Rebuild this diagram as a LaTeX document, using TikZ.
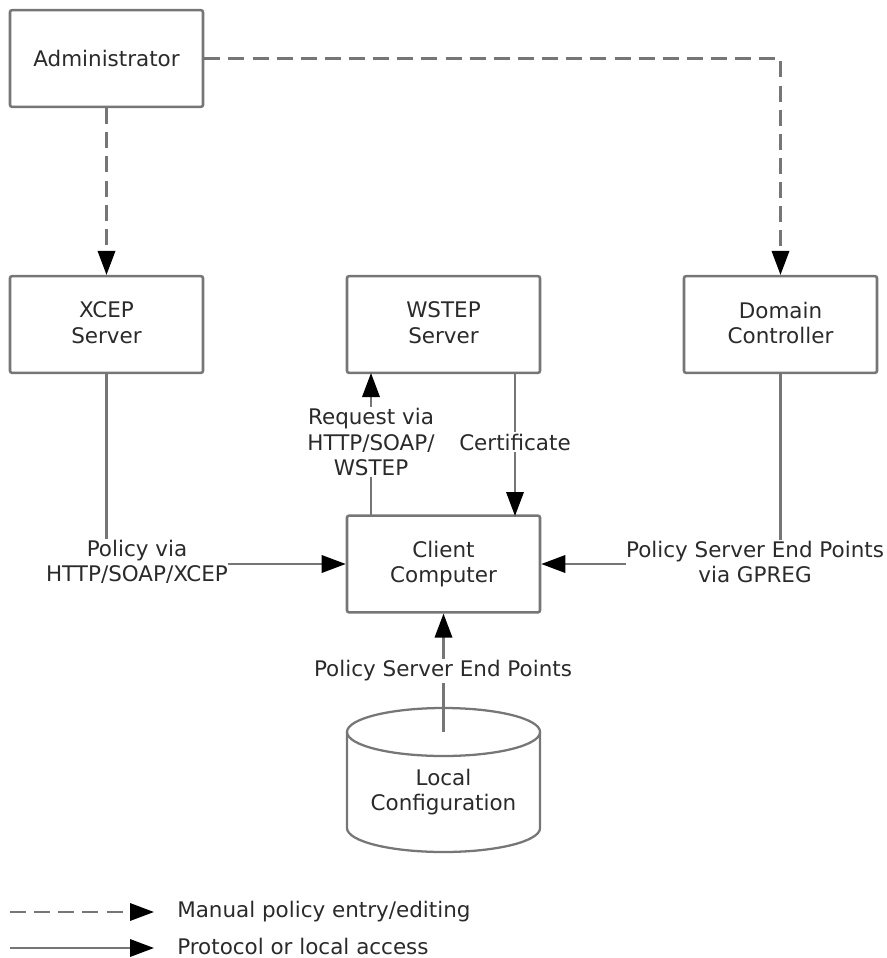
\documentclass[tikz,border=0pt]{standalone}
\usepackage{fontspec}
\setmainfont{DejaVu Sans}
\usetikzlibrary{arrows.meta}
\definecolor{linegray}{HTML}{767676}
\definecolor{textgray}{HTML}{2A2A2A}
\tikzset{
  x=0.75pt,y=-0.75pt,
  every node/.style={font=\fontsize{16.1}{18.9}\selectfont,text=textgray,align=center,inner sep=0pt},
  boxnode/.style={draw=linegray,line width=1.9pt,rounded corners=1.5pt,minimum width=144.75pt,minimum height=72.5pt,fill=white},
  raisedbox/.style={boxnode,text depth=3pt},
  cylline/.style={draw=linegray,line width=1.7pt},
  conn/.style={draw=linegray,line width=1.8pt},
  arrowconn/.style={conn,-{Triangle[length=18pt,width=13pt,color=black,fill=black]}},
  dashconn/.style={arrowconn,dash pattern=on 12pt off 6.1pt},
  linklabel/.style={fill=white,inner ysep=1pt,inner xsep=0pt},
  legendtext/.style={anchor=west}
}
\begin{document}
\begin{tikzpicture}
\useasboundingbox (0,0) rectangle (887,958);
\node[boxnode] (admin) at (106.5,58.5) {Administrator};
\node[raisedbox] (xcep) at (106.5,324.5) {XCEP\\Server};
\node[raisedbox] (wstep) at (443.5,324.5) {WSTEP\\Server};
\node[raisedbox] (dc) at (780.5,324.5) {Domain\\Controller};
\node[boxnode] (client) at (443.5,564) {Client\\Computer};
\draw[cylline] (347,732) arc[start angle=180,end angle=-180,x radius=72.4pt,y radius=18pt];
\draw[cylline] (347,732) -- (347,828) arc[start angle=180,end angle=360,x radius=72.4pt,y radius=18pt] -- (540,732);
\node (local) at (443.5,792) {Local\\Configuration};
\coordinate (localtop) at (443.5,732);
\coordinate (admindc) at (dc.north |- admin.east);
\coordinate (xcepcorner) at (xcep.south |- client.west);
\coordinate (dccorner) at (dc.south |- client.east);
\coordinate (reqclient) at (371,516);
\coordinate (reqserver) at (371,373);
\coordinate (certserver) at (515,373);
\coordinate (certclient) at (515,516);
\draw[dashconn] (admin.south) -- (xcep.north);
\draw[dashconn] (admin.east) -- (admindc) -- (dc.north);
\draw[arrowconn] (xcep.south) -- (xcepcorner) -- (client.west);
\draw[arrowconn] (dc.south) -- (dccorner) -- (client.east);
\draw[arrowconn] (reqclient) -- (reqserver);
\draw[arrowconn] (certserver) -- (certclient);
\draw[arrowconn] (localtop) -- (client.south);
\node[linklabel] (lblpolicy) at (137,562) {Policy via\\HTTP/SOAP/XCEP};
\node[linklabel] (lblgpreg) at (755,562) {Policy Server End Points\\via GPREG};
\node[linklabel] (lblreq) at (371,442) {Request via\\HTTP/SOAP/\\WSTEP};
\node[linklabel] (lblcert) at (515,442) {Certificate};
\node[linklabel] (lblend) at (443,671) {Policy Server End Points};
\coordinate (l1a) at (10,912);
\coordinate (l1b) at (154,912);
\coordinate (l2a) at (10,948);
\coordinate (l2b) at (154,948);
\draw[dashconn] (l1a) -- (l1b);
\draw[arrowconn] (l2a) -- (l2b);
\node[legendtext] (leg1) at (177,912) {Manual policy entry/editing};
\node[legendtext] (leg2) at (177,946.5) {Protocol or local access};
\end{tikzpicture}
\end{document}
